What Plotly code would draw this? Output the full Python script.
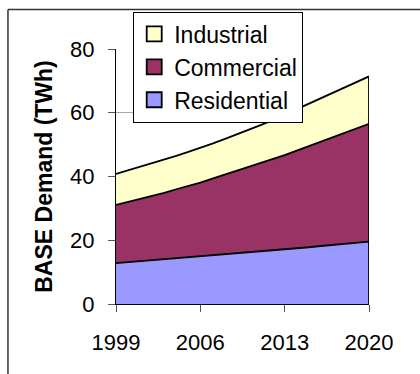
import plotly.graph_objects as go

# Annual BASE demand by sector, TWh
years = list(range(1999, 2021))
residential = [12.8, 13.1, 13.4, 13.7, 14.0, 14.3, 14.6, 15.0, 15.3, 15.6, 15.9,
               16.2, 16.6, 16.9, 17.2, 17.5, 17.8, 18.2, 18.5, 18.9, 19.2, 19.6]
commercial = [18.3, 18.9, 19.6, 20.2, 20.9, 21.7, 22.4, 23.1, 24.0, 24.9, 25.8,
              26.7, 27.5, 28.5, 29.5, 30.6, 31.7, 32.7, 33.8, 34.8, 35.9, 36.9]
industrial = [9.7, 9.9, 10.0, 10.2, 10.4, 10.5, 10.7, 10.8, 11.0, 11.2, 11.4,
              11.7, 12.0, 12.3, 12.7, 13.0, 13.3, 13.6, 13.9, 14.3, 14.6, 14.9]

sectors = ["Residential", "Commercial", "Industrial"]
series = [residential, commercial, industrial]
colors = ["#9999FF", "#993366", "#FFFFCC"]

x_ticks = [1999, 2006, 2013, 2020]
y_ticks = [0, 20, 40, 60, 80]

FONT = "Liberation Sans, Arial, sans-serif"

fig = go.Figure()
for name, vals, col in zip(sectors, series, colors):
    fig.add_trace(go.Scatter(
        x=years, y=vals, name=name, stackgroup="demand",
        mode="lines", line=dict(color="black", width=1.8),
        fillcolor=col, showlegend=False, hoverinfo="skip",
    ))
# square legend swatches
for name, col in zip(sectors, colors):
    fig.add_trace(go.Scatter(
        x=[None], y=[None], name=name, mode="markers",
        marker=dict(symbol="square", size=15, color=col,
                    line=dict(color="black", width=1.8)),
    ))

total_last = residential[-1] + commercial[-1] + industrial[-1]
# closing edge of the stacked areas at the final year
fig.add_shape(type="line", xref="x", yref="y",
              x0=years[-1], x1=years[-1], y0=0, y1=total_last,
              line=dict(color="black", width=1.8))
# outer chart frame (top and left edges)
frame = dict(color="#333333", width=1.5)
fig.add_shape(type="line", xref="paper", yref="paper",
              x0=-0.427, x1=1.3, y0=1.155, y1=1.155, line=frame)
fig.add_shape(type="line", xref="paper", yref="paper",
              x0=-0.427, x1=-0.427, y0=-0.4, y1=1.155, line=frame)

fig.update_layout(
    width=420, height=374,
    margin=dict(l=116, r=51, t=49, b=70),
    paper_bgcolor="white", plot_bgcolor="white",
    font=dict(family=FONT, color="black", size=22),
    showlegend=True,
    legend=dict(
        x=0.068, y=1.147, xanchor="left", yanchor="top",
        traceorder="reversed", bgcolor="white",
        bordercolor="black", borderwidth=1,
        font=dict(family=FONT, size=23, color="black"),
        tracegroupgap=0, itemsizing="trace",
    ),
    xaxis=dict(
        range=[years[0], years[-1]], tickvals=x_ticks,
        ticktext=[str(v) for v in x_ticks],
        showgrid=False, zeroline=False, showline=True,
        linecolor="black", linewidth=1,
        ticks="outside", ticklen=7, tickcolor="#555555",
        tickfont=dict(size=22), ticklabelstandoff=12,
    ),
    yaxis=dict(
        range=[0, 80], tickvals=y_ticks,
        showgrid=True, gridcolor="#a8a8a8", gridwidth=1,
        zeroline=False, showline=True, linecolor="black", linewidth=1,
        ticks="outside", ticklen=7, tickcolor="#555555",
        tickfont=dict(size=22), ticklabelstandoff=9,
        title=dict(text="<b>BASE Demand (TWh)</b>",
                   font=dict(size=23), standoff=11),
    ),
)

fig.write_html("out.html")
